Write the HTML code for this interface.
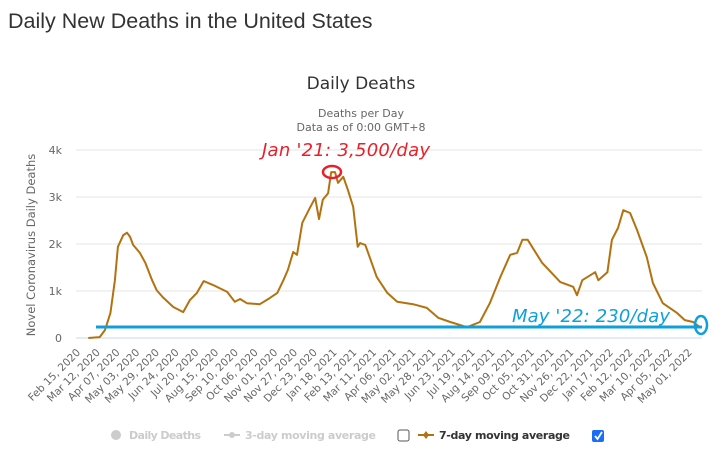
<!DOCTYPE html>
<html><head><meta charset="utf-8"><style>
body{margin:0;background:#fff;width:725px;height:456px;overflow:hidden}
svg{display:block}
</style></head><body>
<svg id="c" width="725" height="456" xmlns="http://www.w3.org/2000/svg" font-family="'DejaVu Sans', 'Liberation Sans', sans-serif">
<text x="8" y="28" font-family="'Liberation Sans', sans-serif" font-size="21.5" fill="#333">Daily New Deaths in the United States</text>
<text x="361" y="89" text-anchor="middle" font-size="17" fill="#333">Daily Deaths</text>
<text x="361" y="117" text-anchor="middle" font-size="11" fill="#666">Deaths per Day</text>
<text x="361" y="131" text-anchor="middle" font-size="11" fill="#666">Data as of 0:00 GMT+8</text>
<text transform="translate(35,245) rotate(-90)" text-anchor="middle" font-size="11.5" fill="#666">Novel Coronavirus Daily Deaths</text>
<g id="grid"></g><g id="xlab"></g>
<path id="line" fill="none" stroke="#b3720f" stroke-width="2" stroke-linejoin="round"/>
<line x1="96" y1="327" x2="702" y2="327" stroke="#0ea0dc" stroke-width="3"/>
<ellipse cx="701" cy="325" rx="6" ry="9" fill="none" stroke="#0ea0dc" stroke-width="2.5"/>
<ellipse cx="332" cy="172" rx="9" ry="6" fill="none" stroke="#e8202a" stroke-width="2.5"/>
<text x="262" y="156" font-size="18" font-style="italic" fill="#e8202a" textLength="168">Jan '21: 3,500/day</text>
<text x="512" y="322" font-size="18" font-style="italic" fill="#0ea0dc" textLength="158">May '22: 230/day</text>
<g font-size="11" font-weight="bold">
<circle cx="116" cy="435" r="5" fill="#ccc"/>
<text x="129" y="439" fill="#ccc" textLength="72">Daily Deaths</text>
<line x1="224" y1="435" x2="240" y2="435" stroke="#ccc" stroke-width="2"/><circle cx="232" cy="435" r="3" fill="#ccc"/>
<text x="245" y="439" fill="#ccc" textLength="131">3-day moving average</text>
<rect x="398" y="430" width="11" height="11" rx="2" fill="#fff" stroke="#555"/>
<line x1="418" y1="435" x2="434" y2="435" stroke="#b3720f" stroke-width="2"/><path d="M426 431 L429 435 L426 439 L423 435Z" fill="#b3720f"/>
<text x="439" y="439" fill="#333" textLength="131">7-day moving average</text>
<rect x="592" y="430" width="12" height="12" rx="2" fill="#1a6ef5"/>
<path d="M595 436 L597.5 439 L602 432" fill="none" stroke="#fff" stroke-width="1.8"/>
</g>
</svg>
<script>
const days=[11,26,33,40,46,50,57,62,66,70,79,86,95,101,109,123,136,145,154,163,175,194,204,211,220,237,250,260,268,274,281,286,293,303,310,315,320,327,331,336,340,347,353,360,366,369,376,391,405,418,439,457,472,488,510,527,540,554,567,576,583,590,609,633,650,655,662,679,683,695,701,709,716,725,734,747,755,768,787,797,808,817];
const deaths=[0,20,170,530,1230,1940,2190,2240,2150,1980,1810,1600,1230,1020,870,660,550,810,960,1210,1130,980,770,830,740,720,850,960,1230,1450,1830,1770,2450,2770,2980,2530,2940,3080,3530,3530,3300,3430,3150,2790,1940,2020,1980,1300,960,770,720,640,430,340,230,340,740,1300,1770,1810,2090,2090,1600,1190,1090,910,1230,1400,1230,1400,2090,2340,2720,2660,2300,1720,1170,740,530,380,340,230];
const yTicks=[0,1000,2000,3000,4000];
const yTickLabels=["0","1k","2k","3k","4k"];
const xTickLabels=["Feb 15, 2020","Mar 12, 2020","Apr 07, 2020","May 03, 2020","May 29, 2020","Jun 24, 2020","Jul 20, 2020","Aug 15, 2020","Sep 10, 2020","Oct 06, 2020","Nov 01, 2020","Nov 27, 2020","Dec 23, 2020","Jan 18, 2021","Feb 13, 2021","Mar 11, 2021","Apr 06, 2021","May 02, 2021","May 28, 2021","Jun 23, 2021","Jul 19, 2021","Aug 14, 2021","Sep 09, 2021","Oct 05, 2021","Oct 31, 2021","Nov 26, 2021","Dec 22, 2021","Jan 17, 2022","Feb 12, 2022","Mar 10, 2022","Apr 05, 2022","May 01, 2022"];
const X0=80,PX=0.7588,Y0=338,PY=0.047;
const xs=d=>X0+d*PX, ys=v=>Y0-v*PY;
const NS="http://www.w3.org/2000/svg";
const grid=document.getElementById('grid'), xl=document.getElementById('xlab');
yTicks.forEach((t,i)=>{
 const l=document.createElementNS(NS,'line');
 
 
 l.setAttribute('x1',76);l.setAttribute('x2',702);l.setAttribute('y1',ys(t));l.setAttribute('y2',ys(t));
 l.setAttribute('stroke',t===0?'#ccd6eb':'#e6e6e6');l.setAttribute('stroke-width',1);
 grid.appendChild(l);
 const tx=document.createElementNS(NS,'text');
 
 
 tx.setAttribute('x',62);tx.setAttribute('y',ys(t)+4);tx.setAttribute('text-anchor','end');
 tx.setAttribute('font-size','11');tx.setAttribute('fill','#666');tx.textContent=yTickLabels[i];
 grid.appendChild(tx);
});
xTickLabels.forEach((s,i)=>{
 const x=xs(i*26)+1;
 const tx=document.createElementNS(NS,'text');
 
 
 tx.setAttribute('transform',`translate(${x},353) rotate(-45)`);
 tx.setAttribute('text-anchor','end');tx.setAttribute('font-size','10.5');tx.setAttribute('fill','#666');
 tx.textContent=s;xl.appendChild(tx);
});
document.getElementById('line').setAttribute('d',days.map((d,i)=>(i?'L':'M')+xs(d).toFixed(1)+' '+ys(deaths[i]).toFixed(1)).join(' '));
</script>
</body></html>
